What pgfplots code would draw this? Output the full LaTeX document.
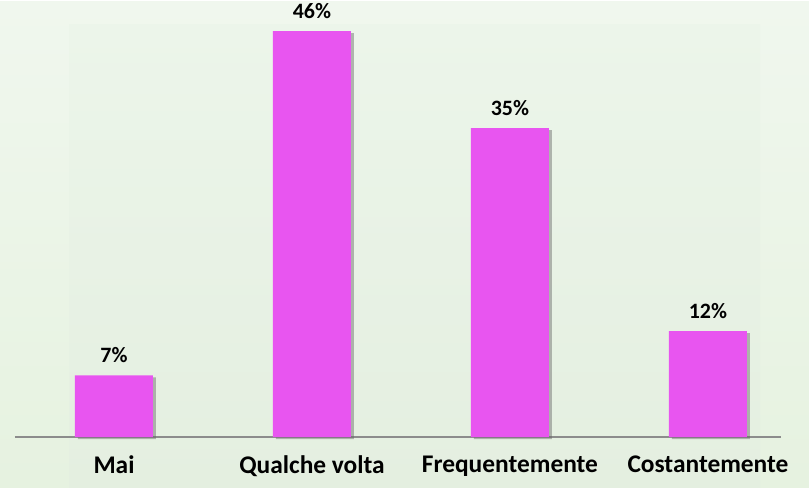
\documentclass[border=0pt]{standalone}
\usepackage{pgfplots}
\pgfplotsset{compat=1.18}
\usepackage{fontspec}
\setmainfont{Carlito}
\usetikzlibrary{shadows}
\definecolor{barpink}{HTML}{E855F0}
\definecolor{basegray}{HTML}{8C8C8C}
\definecolor{bgtop}{HTML}{F0F7EE}
\definecolor{bgbot}{HTML}{E6F2E0}
\definecolor{patop}{HTML}{ECF5EA}
\definecolor{pabot}{HTML}{E4EFE0}
\begin{document}
\begin{tikzpicture}
% background: picture is 809x486 bp, axis origin at (15,436) from top-left
\shade[top color=bgtop, bottom color=bgbot] (-15bp,-50bp) rectangle (794bp,436bp);
\shade[top color=patop, bottom color=pabot] (54bp,-50bp) rectangle (745bp,413bp);
\begin{axis}[
    scale only axis,
    width=766bp, height=406bp,
    xmin=-0.5, xmax=3.369,
    ymin=0, ymax=46,
    axis x line=bottom,
    axis y line=none,
    x axis line style={basegray, line width=1.8bp, -},
    xtick=data,
    xticklabels={Mai, Qualche volta, Frequentemente, Costantemente},
    xtick style={draw=none},
    x tick label style={font=\fontsize{25.5}{28}\selectfont\bfseries, yshift=-11bp},
    ybar,
    bar width=78bp,
    /pgf/number format/assume math mode=true,
    nodes near coords={\pgfmathprintnumber{\pgfplotspointmeta}\%},
    nodes near coords style={font=\fontsize{22}{25}\selectfont\bfseries, yshift=9bp},
    clip=false,
]
\addplot[fill=barpink, draw=none,
    drop shadow={shadow xshift=3bp, shadow yshift=-2bp, opacity=0.45, fill=black!60}]
    coordinates {(0,7) (1,46) (2,35) (3,12)};
\end{axis}
\end{tikzpicture}
\end{document}
